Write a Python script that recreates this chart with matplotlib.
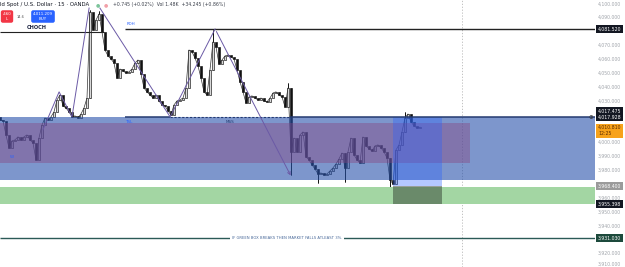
import matplotlib
matplotlib.use("Agg")
import matplotlib.pyplot as plt
import matplotlib.transforms as mtransforms
import numpy as np

# ---------------- data ----------------
closes = [4016.0, 4015.3, 4005.2, 3995.8, 4000.9, 4001.6, 4003.8, 4001.6, 4003.8, 4005.2,
          4001.6, 3999.4, 3987.2, 4003.0, 4012.4, 4017.4, 4016.0, 4018.2, 4021.8, 4030.4,
          4034.0, 4026.1, 4024.6, 4021.8, 4018.2, 4018.9, 4017.4, 4020.3, 4024.6, 4031.8,
          4093.8, 4080.8, 4088.0, 4092.3, 4079.4, 4066.4, 4062.1, 4059.9, 4057.0, 4046.2,
          4052.7, 4051.3, 4049.8, 4050.6, 4052.7, 4057.0, 4059.2, 4049.1, 4039.0, 4036.2,
          4034.0, 4031.8, 4034.0, 4029.7, 4026.8, 4026.1, 4022.5, 4019.6, 4026.8, 4029.7,
          4030.4, 4031.8, 4039.0, 4066.4, 4065.0, 4060.6, 4054.9, 4046.2, 4036.2, 4034.0,
          4052.0, 4072.2, 4068.6, 4056.3, 4059.2, 4062.1, 4062.8, 4061.4, 4059.9, 4052.0,
          4043.4, 4036.2, 4028.2, 4032.6, 4033.3, 4031.8, 4030.4, 4031.8, 4029.7, 4029.0,
          4031.8, 4035.4, 4036.2, 4034.0, 4032.6, 4025.4, 4039.0, 3993.0, 4003.0, 3993.0,
          4005.2, 4007.4, 3989.4, 3987.2, 3983.6, 3980.7, 3977.1, 3977.8, 3976.4, 3977.1,
          3979.3, 3981.4, 3984.3, 3987.9, 3992.2, 3981.4, 3993.0, 4003.0, 3990.8, 3987.2,
          3985.0, 4003.8, 3997.3, 3995.1, 3993.7, 3997.3, 3998.0, 3995.8, 3993.0, 3988.6,
          3972.8, 3969.9, 3994.4, 3998.0, 4007.4, 4017.4, 4020.3, 4014.6, 4011.7, 4010.2,
          4010.8]
first_open = 4018.0

# notable wick extremes (candle index, price)
wick_idx = [30, 33, 71, 96, 97, 106, 115, 130, 135]
wick_px = [4095.2, 4094.5, 4080.8, 4042.6, 3976.4, 3970.6, 3971.3, 3965.6, 4021.8]

pdh = 4081.52
choch = 4079.4
box_top, box_bot = 4017.93, 3972.8
purple_top, purple_bot = 4013.8, 3985.0
green_top, green_bot = 3967.4, 3955.398
pos_entry = 3968.4
bottom_level = 3931.03
last_price = 4010.81

zig1_t = [14.3, 19.7, 24.0, 29.7]
zig1_p = [4008.8, 4036.2, 4018.2, 4096.6]
zig2_t = [33.3, 56.7, 71.7, 97.3]
zig2_p = [4096.6, 4018.2, 4081.5, 3974.2]

tick_prices = [4100, 4090, 4070, 4060, 4050, 4040, 4030, 4000, 3990, 3980,
               3960, 3950, 3940, 3920, 3910]

# ---------------- figure ----------------
W, H = 625, 267
fig = plt.figure(figsize=(W / 100, H / 100), dpi=100)
fig.patch.set_facecolor("white")
ax = fig.add_axes([0, 0, 595 / W, 1])
ax.set_facecolor("white")
XMAX = 595 / 3
ax.set_xlim(0, XMAX)
ax.set_ylim(3910.1, 4102.4)
for s in ax.spines.values():
    s.set_visible(False)
ax.set_xticks([])

# price axis on the right
ax.yaxis.tick_right()
ax.set_yticks(tick_prices)
ax.set_yticklabels([f"{p:,.3f}" for p in tick_prices])
ax.tick_params(axis="y", length=0, pad=2, labelsize=3.3, labelcolor="#a0a4aa")
for lab, p in zip(ax.get_yticklabels(), tick_prices):
    if p == 3910:
        lab.set_va("bottom")

# candles
idx = np.arange(len(closes))
opens = np.concatenate([[first_open], closes[:-1]])
cl = np.array(closes)
lo_body = np.minimum(opens, cl)
hi_body = np.maximum(opens, cl)
ax.vlines(wick_idx, [lo_body[i] for i in wick_idx], wick_px, color="#111111", lw=0.6, zorder=2)
ax.vlines(wick_idx, [hi_body[i] for i in wick_idx], wick_px, color="#111111", lw=0.6, zorder=2)
ax.plot(idx, cl, color="#333333", lw=0.5, zorder=2)
up = cl >= opens
ax.bar(idx, np.maximum(hi_body - lo_body, 0.4), bottom=lo_body, width=0.75,
       color=np.where(up, "#d9d9d9", "#111111"), edgecolor="#111111", lw=0.45, zorder=2.1)

# zones (drawn over candles, semi-transparent like TradingView drawings)
ax.fill_between([0, XMAX], box_bot, box_top, color=(38/255, 80/255, 170/255), alpha=0.6, lw=0, zorder=3)
ax.fill_between([0, 470 / 3], purple_bot, purple_top, color=(135/255, 70/255, 130/255), alpha=0.42, lw=0, zorder=3.1)
ax.fill_between([0, XMAX], green_bot, green_top, color="#a3d6a3", lw=0, zorder=3)

# position tool
pos_l, pos_r = 393 / 3, 442 / 3
ax.fill_between([pos_l, pos_r], pos_entry, box_top, color=(41/255, 98/255, 255/255), alpha=0.35, lw=0, zorder=3.2)
ax.fill_between([pos_l, pos_r], green_bot, pos_entry, color=(50/255, 64/255, 50/255), alpha=0.5, lw=0, zorder=3.2)

# horizontal levels
ax.hlines(pdh, 125 / 3, XMAX, color="#222222", lw=1.0, zorder=4)
ax.hlines(choch, 0, 104 / 3, color="#222222", lw=0.8, zorder=4)
ax.hlines(box_top, 125 / 3, 170 / 3, color="#243a70", lw=1.1, zorder=4)
ax.hlines(box_top, 170 / 3, 290 / 3, color="#243a70", lw=0.8, linestyles=(0, (2, 1.5)), zorder=4)
ax.hlines(box_top, 290 / 3, XMAX, color="#243a70", lw=1.1, zorder=4)
ax.hlines(bottom_level, 0, XMAX, color="#2b5a57", lw=1.0, zorder=4)
ax.axvline(462 / 3, color="#b8b8b8", lw=0.6, ls=(0, (1.5, 2)), zorder=1)

# zigzag annotations
zz = "#6b5aa6"
ax.plot(zig1_t, zig1_p, color=zz, lw=0.7, zorder=5)
ax.plot(zig2_t[:-1], zig2_p[:-1], color=zz, lw=0.7, zorder=5)
ax.annotate("", xy=(zig2_t[-1], zig2_p[-1]), xytext=(zig2_t[-2], zig2_p[-2]),
            arrowprops=dict(arrowstyle="->", color=zz, lw=0.7, mutation_scale=5), zorder=5)

# small labels
ax.text(127 / 3, 4085.2, "PDH", fontsize=3, color="#2962ff", ha="left", va="center", zorder=6)
ax.text(125 / 3, 4014.6, "TSL", fontsize=3, color="#2962ff", ha="left", va="center", zorder=6)
ax.text(226 / 3, 4014.2, "MSS", fontsize=3, color="#243a70", ha="left", va="center", zorder=6)
ax.text(12 / 3, 3989.5, "W", fontsize=3, color="#2962ff", ha="center", va="center", zorder=6)
ax.text(37 / 3, 4082.8, "CHOCH", fontsize=3.6, color="#1a2240", fontweight="bold", ha="center", va="center", zorder=6)
ax.text(287 / 3, bottom_level, "IF GREEN BOX BREAKS THEN MARKET FALLS ATLEAST 3%.", fontsize=2.7,
        color="#4a6a9a", ha="center", va="center", zorder=6,
        bbox=dict(boxstyle="square,pad=0.4", fc="white", ec="none"))

# right-hand price labels with backgrounds
trans = mtransforms.blended_transform_factory(ax.transAxes, ax.transData)
def plabel(price, text, fc, tc="white", dy=0):
    ax.annotate(text, xy=(1.0, price), xycoords=trans, xytext=(2.2, dy), textcoords="offset points",
                fontsize=3.3, color=tc, ha="left", va="center", annotation_clip=False, zorder=10,
                bbox=dict(boxstyle="square,pad=0.35", fc=fc, ec="none"))

plabel(pdh, "4,081.520", "#131722")
plabel(box_top, "4,017.475", "#131722", dy=4.3)
plabel(box_top, "4,017.928", "#131722")
plabel(last_price, "4,010.810\n12:25", "#f7a21b", tc="#5a2a00", dy=-2.5)
plabel(pos_entry, "3,968.400", "#9b9b9b")
plabel(green_bot, "3,955.398", "#131722")
plabel(bottom_level, "3,931.030", "#1d4a3c")
ax.annotate("\u2295", xy=(1.0, box_top), xycoords=trans, xytext=(-3, 0), textcoords="offset points",
            fontsize=4, color="#333333", ha="center", va="center", annotation_clip=False, zorder=10)

# header
fig.text(0, 1 - 4.5 / H, "ld Spot / U.S. Dollar \u00b7 15 \u00b7 OANDA", fontsize=3.9, color="#131722",
         ha="left", va="center")
fig.text(98 / W, 1 - 4.5 / H, "\u25cf", fontsize=3.5, color="#7cc49a", ha="center", va="center")
fig.text(106 / W, 1 - 4.5 / H, "\u25cf", fontsize=3.5, color="#f2a0a8", ha="center", va="center")
fig.text(113 / W, 1 - 4.5 / H, "+0.745 (+0.02%)  Vol 1.48K  +34.245 (+0.86%)", fontsize=3.3,
         color="#3a3f4a", ha="left", va="center")
fig.text(7 / W, 1 - 16.5 / H, ".460\nL", fontsize=2.9, color="white", ha="center", va="center",
         linespacing=1.3, bbox=dict(boxstyle="round,pad=0.45,rounding_size=0.5", fc="#f23645", ec="none"))
fig.text(21 / W, 1 - 16.5 / H, "14.6", fontsize=2.6, color="#555555", ha="center", va="center")
fig.text(43 / W, 1 - 16.5 / H, "4,011.209\nBUY", fontsize=2.9, color="white", ha="center", va="center",
         linespacing=1.3, bbox=dict(boxstyle="round,pad=0.45,rounding_size=0.5", fc="#2962ff", ec="none"))

fig.savefig("out.png", dpi=100, facecolor="white")
